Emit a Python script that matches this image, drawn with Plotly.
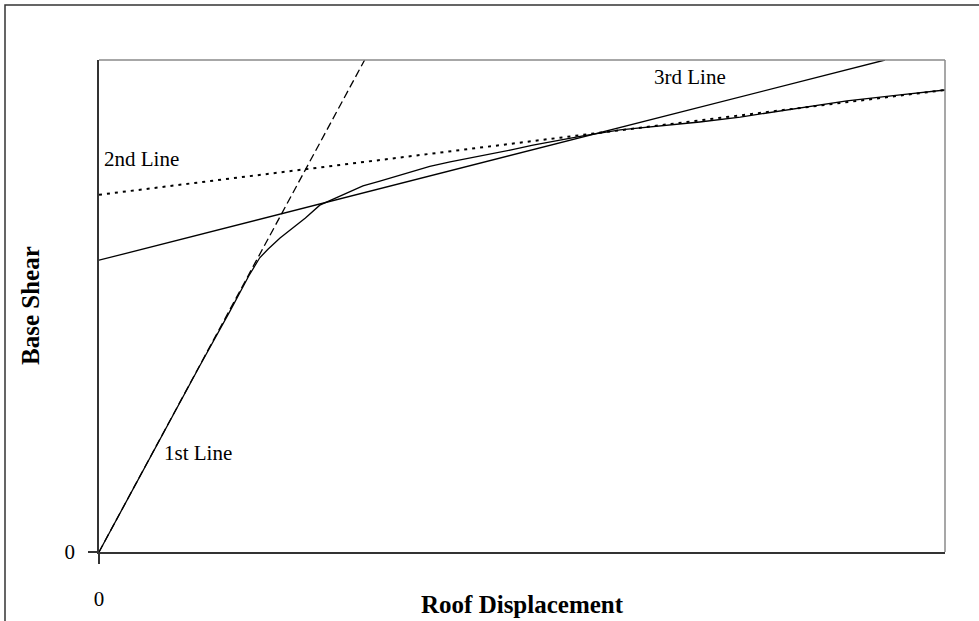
import plotly.graph_objects as go

# Pushover curve (roof displacement vs base shear), arbitrary units
curve_disp = [0, 6.0, 11.9, 15.5, 17.7, 19.0, 20.0, 21.4, 22.9, 24.4, 26.1, 28.5, 30.0,
              31.2, 33.2, 36.8, 39.1, 41.5, 45.9, 48.6, 51.3, 54.5, 57.2, 61.6, 66.3,
              71.0, 75.8, 80.5, 88.4, 94.7, 100.0]
curve_shear = [0, 19.1, 37.8, 49.0, 56.1, 59.8, 61.6, 63.8, 65.9, 67.9, 70.5, 72.4, 73.5,
               74.4, 75.4, 77.3, 78.4, 79.3, 80.7, 81.7, 82.7, 83.7, 84.6, 85.8, 86.6,
               87.4, 88.4, 89.6, 91.7, 92.9, 93.9]

line1_x = [0, 31.4]
line1_y = [0, 100]
line2_x = [0, 100]
line2_y = [72.6, 93.9]
line3_x = [0, 92.9]
line3_y = [59.3, 100]

label_text = ["1st Line", "2nd Line", "3rd Line"]
label_x = [7.5, 0.4, 65.4]
label_y = [20.2, 79.9, 96.6]

FONT = "Liberation Serif, Times New Roman, serif"

W, H = 979, 621
L, R, T, B = 99, 34, 60, 69
pw, ph = W - L - R, H - T - B


def px_x(p):
    return (p - L) / pw


def px_y(p):
    return (H - B - p) / ph


fig = go.Figure()
fig.add_trace(go.Scatter(x=curve_disp, y=curve_shear, mode="lines",
                         line=dict(color="black", width=1.3), showlegend=False))
fig.add_trace(go.Scatter(x=line1_x, y=line1_y, mode="lines",
                         line=dict(color="black", width=1.3, dash="8px,4px"), showlegend=False))
fig.add_trace(go.Scatter(x=line2_x, y=line2_y, mode="lines",
                         line=dict(color="black", width=2, dash="3px,5px"), showlegend=False))
fig.add_trace(go.Scatter(x=line3_x, y=line3_y, mode="lines",
                         line=dict(color="black", width=1.3), showlegend=False))

for t, x, y in zip(label_text, label_x, label_y):
    fig.add_annotation(x=x, y=y, text=t, showarrow=False, xanchor="left", yanchor="middle",
                       font=dict(family=FONT, size=21, color="black"))

# axis titles
fig.add_annotation(xref="paper", yref="paper", x=0.5, y=px_y(604), text="<b>Roof Displacement</b>",
                   showarrow=False, xanchor="center", yanchor="middle",
                   font=dict(family=FONT, size=25, color="black"))
fig.add_annotation(xref="paper", yref="paper", x=px_x(30), y=0.5, text="<b>Base Shear</b>",
                   showarrow=False, xanchor="center", yanchor="middle", textangle=-90,
                   font=dict(family=FONT, size=25, color="black"))

fig.update_xaxes(range=[0, 100], tickvals=[0], ticktext=["0"], showgrid=False, zeroline=False,
                 showline=True, linecolor="#333", linewidth=1.5, mirror=False,
                 ticks="outside", ticklen=10, tickcolor="#333", tickwidth=1.5,
                 ticklabelstandoff=17,
                 tickfont=dict(family=FONT, size=21, color="black"))
fig.update_yaxes(range=[0, 100], tickvals=[0], ticktext=["0"], showgrid=False, zeroline=False,
                 showline=True, linecolor="#333", linewidth=1.5, mirror=False,
                 ticks="outside", ticklen=9, tickcolor="#333", tickwidth=1.5,
                 ticklabelstandoff=9,
                 tickfont=dict(family=FONT, size=21, color="black"))

# top and right frame of plot area (grey)
fig.add_shape(type="line", xref="paper", yref="paper", x0=0, x1=1, y0=1, y1=1,
              line=dict(color="#8a8a8a", width=1.5))
fig.add_shape(type="line", xref="paper", yref="paper", x0=1, x1=1, y0=0, y1=1,
              line=dict(color="#8a8a8a", width=1.5))
# outer chart border
fig.add_shape(type="rect", xref="paper", yref="paper",
              x0=px_x(5), x1=px_x(990), y0=px_y(630), y1=px_y(5),
              line=dict(color="#333", width=1.5), layer="below")

fig.update_layout(width=W, height=H, margin=dict(l=L, r=R, t=T, b=B, autoexpand=False),
                  plot_bgcolor="white", paper_bgcolor="white",
                  font=dict(family=FONT, color="black"))
fig.write_html("out.html", config={"displayModeBar": False},
               post_script="document.body.style.margin='0px';")
